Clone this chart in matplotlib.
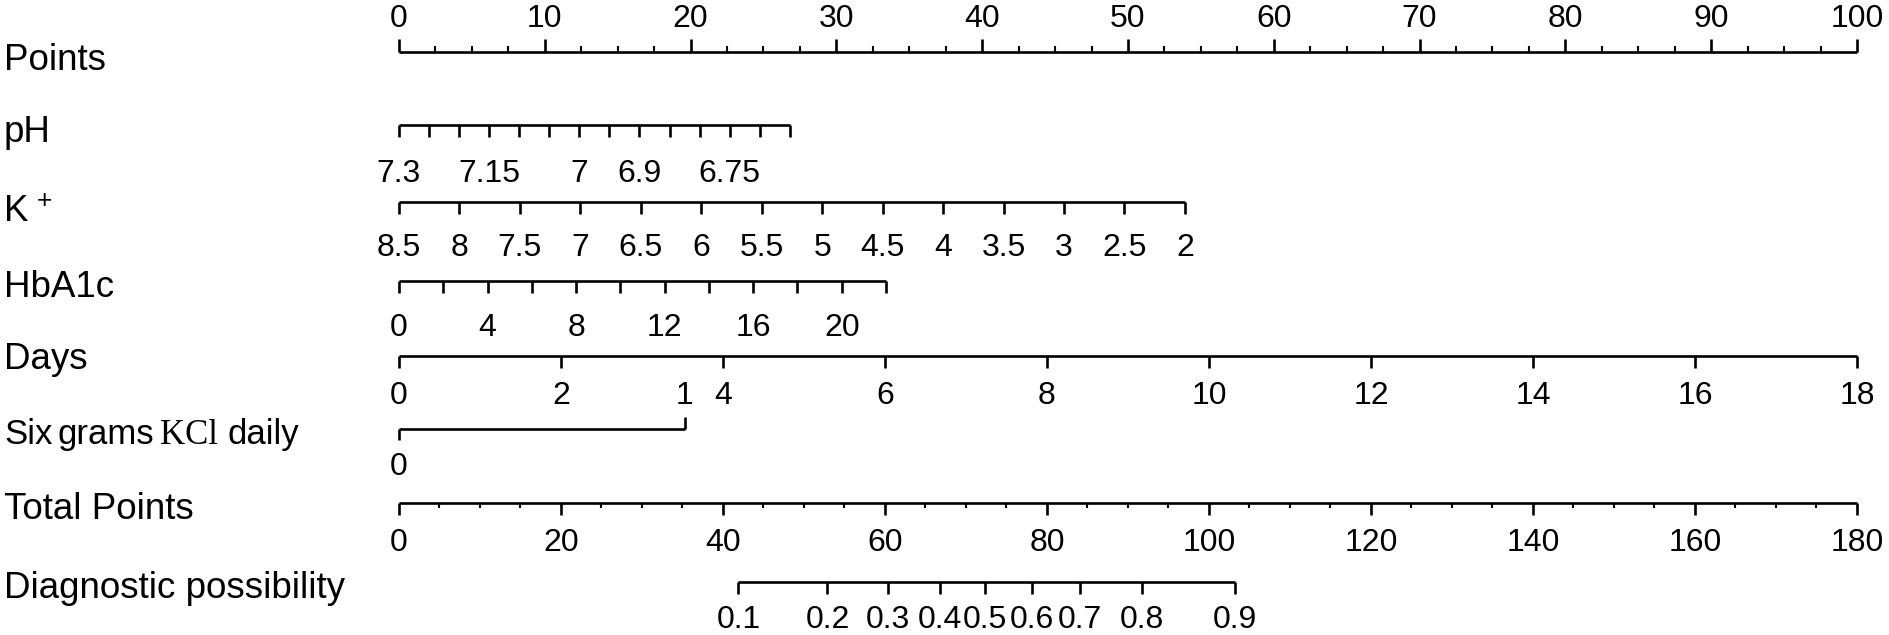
import matplotlib
matplotlib.use('Agg')
import matplotlib.pyplot as plt
from matplotlib.transforms import blended_transform_factory

plt.rcParams['font.family'] = ['Liberation Sans', 'DejaVu Sans']
plt.rcParams['mathtext.default'] = 'regular'

# ---------------- data ----------------
points_major = [0, 10, 20, 30, 40, 50, 60, 70, 80, 90, 100]
points_minor = [2.5, 5, 7.5, 12.5, 15, 17.5, 22.5, 25, 27.5, 32.5, 35, 37.5,
                42.5, 45, 47.5, 52.5, 55, 57.5, 62.5, 65, 67.5, 72.5, 75, 77.5,
                82.5, 85, 87.5, 92.5, 95, 97.5]

ph_values = [7.3, 7.25, 7.2, 7.15, 7.1, 7.05, 7.0, 6.95, 6.9, 6.85, 6.8, 6.75, 6.7, 6.65]
ph_labels = ['7.3', '', '', '7.15', '', '', '7', '', '6.9', '', '', '6.75', '', '']
ph_range = (7.3, 6.65)
ph_points = (0, 26.8)

k_values = [8.5, 8, 7.5, 7, 6.5, 6, 5.5, 5, 4.5, 4, 3.5, 3, 2.5, 2]
k_labels = ['8.5', '8', '7.5', '7', '6.5', '6', '5.5', '5', '4.5', '4', '3.5', '3', '2.5', '2']
k_range = (8.5, 2)
k_points = (0, 53.9)

hba1c_values = [0, 2, 4, 6, 8, 10, 12, 14, 16, 18, 20, 22]
hba1c_labels = ['0', '', '4', '', '8', '', '12', '', '16', '', '20', '']
hba1c_range = (0, 22)
hba1c_points = (0, 33.4)

days_values = [0, 2, 4, 6, 8, 10, 12, 14, 16, 18]
days_labels = ['0', '2', '4', '6', '8', '10', '12', '14', '16', '18']
days_range = (0, 18)
days_points = (0, 100)

kcl_values = [0, 1]
kcl_labels = ['0', '1']
kcl_points = [0, 19.6]

total_major = [0, 20, 40, 60, 80, 100, 120, 140, 160, 180]
total_minor = [5, 10, 15, 25, 30, 35, 45, 50, 55, 65, 70, 75, 85, 90, 95,
               105, 110, 115, 125, 130, 135, 145, 150, 155, 165, 170, 175]
total_range = (0, 180)

diag_probs = [0.1, 0.2, 0.3, 0.4, 0.5, 0.6, 0.7, 0.8, 0.9]
diag_labels = ['0.1', '0.2', '0.3', '0.4', '0.5', '0.6', '0.7', '0.8', '0.9']
diag_total = [41.9, 52.9, 60.4, 66.8, 72.3, 78.1, 84.1, 91.7, 103.2]

row_names = ['Points', 'pH', 'K', 'HbA1c', 'Days', None, 'Total Points',
             'Diagnostic possibility']

# ---------------- layout ----------------
W, H, DPI = 1890, 635, 100
X0_PX, X100_PX = 399, 1857          # pixel position of 0 and 100 points
px_per_pt = (X100_PX - X0_PX) / 100.0

fig = plt.figure(figsize=(W / DPI, H / DPI), dpi=DPI)
ax = fig.add_axes([0, 0, 1, 1])
ax.set_xlim(-X0_PX / px_per_pt, (W - X0_PX) / px_per_pt)
ax.set_ylim(H, 0)
ax.axis('off')

LW = 1.9
TICK_FS = 23
LABEL_FS = 26.5
lbl_tr = blended_transform_factory(fig.transFigure, ax.transData)

line_y = [52, 125, 202, 281, 356, 429, 503, 582]
label_base = [70, 142, 221, 297, 369, 444, 519, 598]
tick_base = [27, 182, 256, 336, 404, 475, 551, 628]


def lin(v, vr, pr):
    return pr[0] + (v - vr[0]) / (vr[1] - vr[0]) * (pr[1] - pr[0])


def draw_scale(y, pts, labels, lab_base, tick_len=12, up=False, minor_pts=(), minor_len=5):
    ax.plot([min(pts), max(pts)], [y, y], color='black', lw=LW, solid_capstyle='butt')
    sgn = -1 if up else 1
    for p in pts:
        ax.plot([p, p], [y, y + sgn * tick_len], color='black', lw=LW, solid_capstyle='butt')
    for p in minor_pts:
        ax.plot([p, p], [y, y + sgn * minor_len], color='black', lw=LW * 0.8, solid_capstyle='butt')
    for p, s in zip(pts, labels):
        if s:
            ax.text(p, lab_base, s, ha='center', va='baseline', fontsize=TICK_FS)


# Points
draw_scale(line_y[0], points_major, [str(v) for v in points_major], tick_base[0],
           tick_len=13, up=True, minor_pts=points_minor, minor_len=6)
# pH
draw_scale(line_y[1], [lin(v, ph_range, ph_points) for v in ph_values], ph_labels, tick_base[1])
# K+
draw_scale(line_y[2], [lin(v, k_range, k_points) for v in k_values], k_labels, tick_base[2])
# HbA1c
draw_scale(line_y[3], [lin(v, hba1c_range, hba1c_points) for v in hba1c_values], hba1c_labels, tick_base[3])
# Days
draw_scale(line_y[4], [lin(v, days_range, days_points) for v in days_values], days_labels, tick_base[4])
# Six grams KCl daily: 0 below (tick down), 1 above (tick up)
y6 = line_y[5]
ax.plot([kcl_points[0], kcl_points[1]], [y6, y6], color='black', lw=LW, solid_capstyle='butt')
ax.plot([kcl_points[0]] * 2, [y6, y6 + 11], color='black', lw=LW, solid_capstyle='butt')
ax.plot([kcl_points[1]] * 2, [y6, y6 - 12], color='black', lw=LW, solid_capstyle='butt')
ax.text(kcl_points[0], tick_base[5], kcl_labels[0], ha='center', va='baseline', fontsize=TICK_FS)
ax.text(kcl_points[1], tick_base[4], kcl_labels[1], ha='center', va='baseline', fontsize=TICK_FS)
# Total points
tp = lambda t: lin(t, total_range, (0, 100))
draw_scale(line_y[6], [tp(t) for t in total_major], [str(t) for t in total_major], tick_base[6],
           minor_pts=[tp(t) for t in total_minor], minor_len=5)
# Diagnostic possibility
draw_scale(line_y[7], [tp(t) for t in diag_total], diag_labels, tick_base[7])

# Row labels
for name, yb in zip(row_names, label_base):
    if name:
        ax.text(4 / W, yb, name, transform=lbl_tr, ha='left', va='baseline', fontsize=LABEL_FS)
# superscript plus of K+
ax.text(37 / W, 208, '+', transform=lbl_tr, ha='left', va='baseline', fontsize=19)
# "Six grams KCl daily" (KCl in a serif face, as in the reference)
ax.text(4 / W, label_base[5], 'Six', transform=lbl_tr, ha='left', va='baseline', fontsize=25)
ax.text(58 / W, label_base[5], 'grams', transform=lbl_tr, ha='left', va='baseline', fontsize=25)
ax.text(160 / W, label_base[5], 'KCl', transform=lbl_tr, ha='left', va='baseline', fontsize=25,
        family=['Liberation Serif', 'DejaVu Serif'])
ax.text(228 / W, label_base[5], 'daily', transform=lbl_tr, ha='left', va='baseline', fontsize=25)

fig.savefig('out.png', dpi=DPI)
